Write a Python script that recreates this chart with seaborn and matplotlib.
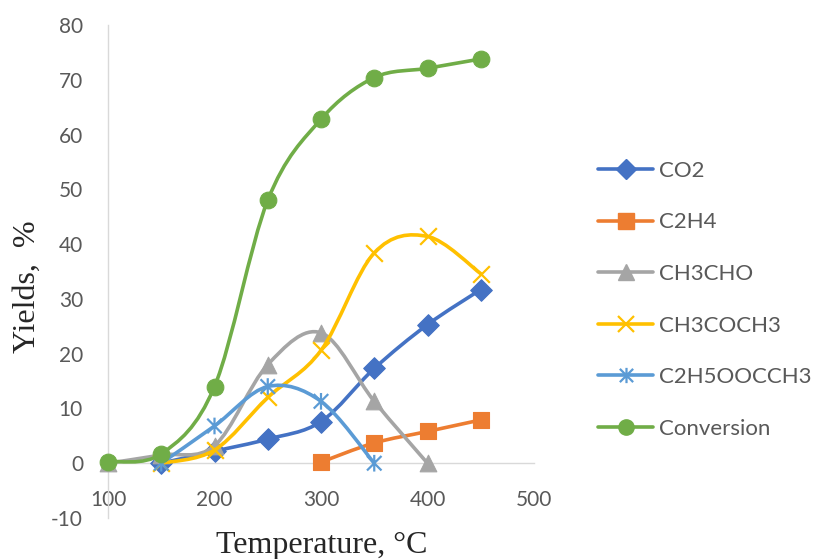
import numpy as np
import pandas as pd
import matplotlib
matplotlib.use("Agg")
import matplotlib.pyplot as plt
import seaborn as sns
from matplotlib.path import Path
from matplotlib.patches import PathPatch
from matplotlib.lines import Line2D

# ---------------- data ----------------
temps_co2 = [150, 200, 250, 300, 350, 400, 450]
co2 = [0.0, 2.2, 4.4, 7.6, 17.3, 25.3, 31.7]

temps_c2h4 = [300, 350, 400, 450]
c2h4 = [0.2, 3.7, 5.8, 7.9]

temps_ch3cho = [100, 150, 200, 250, 300, 350, 400]
ch3cho = [0.0, 1.5, 3.2, 18.0, 23.8, 11.3, 0.0]

temps_ch3coch3 = [150, 200, 250, 300, 350, 400, 450]
ch3coch3 = [0.0, 2.4, 12.0, 20.6, 38.4, 41.4, 34.6]

temps_ester = [150, 200, 250, 300, 350]
ester = [0.0, 6.8, 14.0, 11.3, 0.0]

temps_conv = [100, 150, 200, 250, 300, 350, 400, 450]
conversion = [0.3, 1.7, 14.0, 48.0, 62.8, 70.4, 72.1, 73.8]

series_names = ["CO2", "C2H4", "CH3CHO", "CH3COCH3", "C2H5OOCCH3", "Conversion"]
x_ticks = [100, 200, 300, 400, 500]
y_ticks = [-10, 0, 10, 20, 30, 40, 50, 60, 70, 80]

# ---------------- styles ----------------
colors = ["#4472C4", "#ED7D31", "#A5A5A5", "#FFC000", "#5B9BD5", "#70AD47"]
asterisk = Path([(-1, -1), (1, 1), (-1, 1), (1, -1), (0, -1.15), (0, 1.15)],
                [Path.MOVETO, Path.LINETO, Path.MOVETO, Path.LINETO, Path.MOVETO, Path.LINETO])
markers = ["D", "s", "^", "x", asterisk, "o"]
msizes = [11, 12, 12, 12, 12, 12]   # points
filled = [True, True, True, False, False, True]

sns.set_theme(style="white")
plt.rcParams["font.family"] = ["Lato", "DejaVu Sans"]
plt.rcParams["axes.unicode_minus"] = False

fig = plt.figure(figsize=(8.16, 5.59), dpi=100)
ax = fig.add_axes([108 / 816, 1 - 518 / 559, (534 - 108) / 816, (518 - 25) / 559])

data_x = [temps_co2, temps_c2h4, temps_ch3cho, temps_ch3coch3, temps_ester, temps_conv]
data_y = [co2, c2h4, ch3cho, ch3coch3, ester, conversion]


def smooth_path(xs, ys):
    pts = np.column_stack([xs, ys]).astype(float)
    n = len(pts)
    verts = [pts[0]]
    codes = [Path.MOVETO]
    for i in range(n - 1):
        p0 = pts[i - 1] if i > 0 else pts[i]
        p1 = pts[i]
        p2 = pts[i + 1]
        p3 = pts[i + 2] if i + 2 < n else pts[i + 1]
        c1 = p1 + (p2 - p0) / 6.0
        c2 = p2 - (p3 - p1) / 6.0
        verts += [c1, c2, p2]
        codes += [Path.CURVE4] * 3
    return Path(verts, codes)


for k, name in enumerate(series_names):
    xs, ys = data_x[k], data_y[k]
    z = 3 + 2 * k
    patch = PathPatch(smooth_path(xs, ys), facecolor="none", edgecolor=colors[k],
                      lw=2.6, capstyle="round", joinstyle="round", zorder=z,
                      transform=ax.transData, clip_on=False)
    ax.add_patch(patch)
    df = pd.DataFrame({"T": xs, "Y": ys})
    if filled[k]:
        sns.scatterplot(data=df, x="T", y="Y", marker=markers[k], s=msizes[k] ** 2,
                        color=colors[k], edgecolor=colors[k], linewidth=0.8,
                        zorder=z + 1, ax=ax, clip_on=False, legend=False)
    elif markers[k] == "x":
        sns.scatterplot(data=df, x="T", y="Y", marker=markers[k], s=msizes[k] ** 2,
                        color=colors[k], linewidth=1.6,
                        zorder=z + 1, ax=ax, clip_on=False, legend=False)
    else:
        sns.scatterplot(data=df, x="T", y="Y", marker=markers[k], s=msizes[k] ** 2,
                        color=colors[k], edgecolor=colors[k], facecolor="none",
                        linewidth=1.6, zorder=z + 1, ax=ax, clip_on=False, legend=False)

ax.set_xlim(100, 500)
ax.set_ylim(-10, 80)
ax.set_xticks(x_ticks)
ax.set_yticks(y_ticks)
ax.set_xlabel("")
ax.set_ylabel("")

for s in ["top", "right"]:
    ax.spines[s].set_visible(False)
ax.spines["bottom"].set_position(("data", 0))
ax.spines["left"].set_position(("data", 100))
for s in ["bottom", "left"]:
    ax.spines[s].set_color("#D9D9D9")
    ax.spines[s].set_linewidth(1.0)
    ax.spines[s].set_zorder(1)

ax.tick_params(axis="x", length=0, pad=19, labelsize=15, labelcolor="#595959")
ax.tick_params(axis="y", length=0, pad=18, labelsize=15, labelcolor="#595959")
ax.set_facecolor("white")

fig.text(322 / 816, 1 - 545 / 559, "Temperature, °C", family=["Liberation Serif"],
         fontsize=23, color="#262626", ha="center", va="center")
fig.text(27 / 816, 1 - 287 / 559, "Yields,  %", family=["Liberation Serif"],
         fontsize=23, color="#262626", ha="center", va="center", rotation=90)

handles = []
for k, name in enumerate(series_names):
    if filled[k]:
        h = Line2D([], [], color=colors[k], lw=2.6, marker=markers[k], markersize=msizes[k] - 1,
                   markerfacecolor=colors[k], markeredgecolor=colors[k], solid_capstyle="round")
    else:
        h = Line2D([], [], color=colors[k], lw=2.6, marker=markers[k], markersize=msizes[k] - 1,
                   markerfacecolor="none", markeredgecolor=colors[k], markeredgewidth=1.6,
                   solid_capstyle="round")
    handles.append(h)

leg = fig.legend(handles, series_names, loc="upper left",
                 bbox_to_anchor=(589 / 816, 1 - 152 / 559), frameon=False,
                 fontsize=16, labelcolor="#595959", handlelength=2.5,
                 handletextpad=0.25, labelspacing=1.42, borderaxespad=0)

fig.savefig("out.png", dpi=100, facecolor="white")
